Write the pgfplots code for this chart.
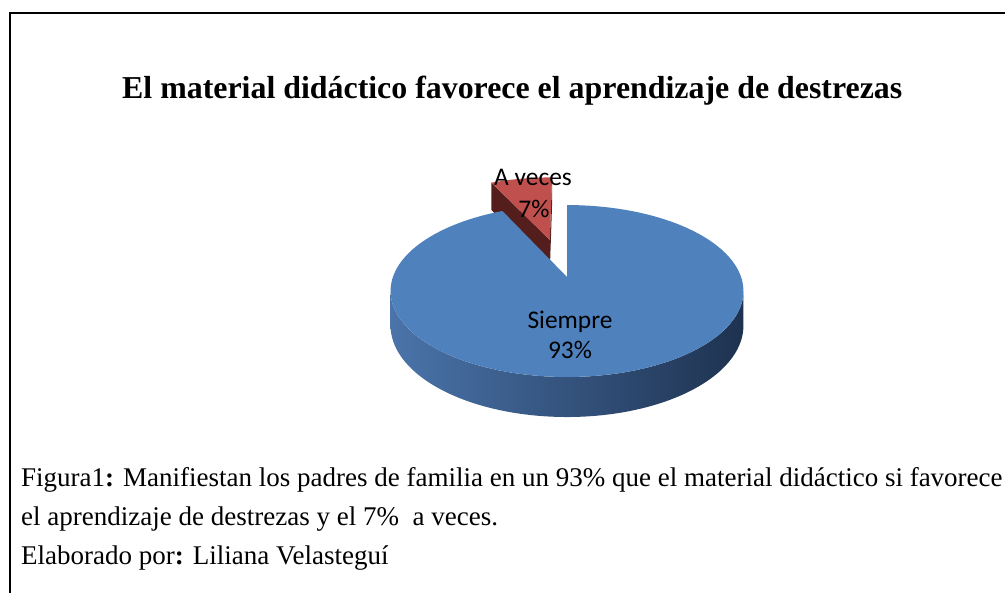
\documentclass[border=0pt]{standalone}
\usepackage{fontspec}
\setmainfont{Liberation Serif}
\newfontfamily\calibri{Carlito}
\usepackage{pgfplots}
\usepackage{pgfplotstable}
\pgfplotsset{compat=1.18}

\definecolor{bluetop}{RGB}{79,129,189}
\definecolor{sideL}{RGB}{74,116,170}
\definecolor{sideM}{RGB}{46,78,122}
\definecolor{sideR}{RGB}{30,50,80}
\definecolor{redtop}{RGB}{192,80,77}
\definecolor{reddark}{RGB}{84,30,28}

\pgfplotstableread{
label value
Siempre 93
Aveces 7
}\piedata
\pgfplotstablegetelem{0}{value}\of\piedata \let\vBlue\pgfplotsretval
\pgfplotstablegetelem{1}{value}\of\piedata \let\vRed\pgfplotsretval

% projection parameters (pixels)
\def\pcx{567}\def\pcy{277}\def\pA{174.1}\def\pB{83.7}\def\pp{0.163}\def\pH{33.5}
\pgfmathsetmacro\redStart{90}
\pgfmathsetmacro\redEnd{90+3.6*\vRed}
\pgfmathsetmacro\blueEnd{\redEnd+3.6*\vBlue}
\pgfmathsetmacro\redMid{(\redStart+\redEnd)/2}
\pgfmathsetmacro\rox{0.488*cos(\redMid)}
\pgfmathsetmacro\roy{0.488*sin(\redMid)}
\pgfmathsetmacro\sideA{180+asin(\pp)}
\pgfmathsetmacro\sideB{360-asin(\pp)}

\begin{document}
\begin{tikzpicture}
\begin{axis}[
  width=1005bp, height=593bp, scale only axis,
  xmin=0, xmax=1005, ymin=0, ymax=593, y dir=reverse,
  hide axis, clip=false,
  declare function={
    DD(\r,\t,\oy)=1+\pp*(\r*sin(\t)+\oy);
    PX(\r,\t,\ox,\oy)=\pcx+\pA*(\r*cos(\t)+\ox)/DD(\r,\t,\oy);
    PY(\r,\t,\oy,\z)=\pcy-(\pB*(\r*sin(\t)+\oy)-\z*\pH)/DD(\r,\t,\oy);
    RR(\u)=ifthenelse(or(\u<(-0.5),\u>120.5),0,1);
    TT(\u,\a,\b)=\a+(\b-\a)*min(max(\u,0),120)/120;
    QR(\u)=ifthenelse(or(\u<0.5,\u>2.5),0,1);
    QZ(\u)=ifthenelse(\u>1.5,1,0);
    SZ(\u)=ifthenelse(\u>100.5,1,0);
    ST(\u,\a,\b)=ifthenelse(\u>100.5,\b-(\b-\a)*(\u-101)/100,\a+(\b-\a)*\u/100);
  },
]
% frame
\addplot[black, line width=2bp] coordinates {(10,593) (10,13) (1005,13)};

% title
\node[anchor=base west, inner sep=0, font=\fontsize{32}{38}\selectfont\bfseries]
  at (axis cs:122,98) {El material didáctico favorece el aprendizaje de destrezas};

% red slice (exploded): cut faces
\addplot[fill=reddark, draw=none, samples at={0,1,2,3}, variable=\u]
  ({PX(QR(\u),\redEnd,\rox,\roy)}, {PY(QR(\u),\redEnd,\roy,QZ(\u))});
\addplot[fill=reddark, draw=none, samples at={0,1,2,3}, variable=\u]
  ({PX(QR(\u),\redStart,\rox,\roy)}, {PY(QR(\u),\redStart,\roy,QZ(\u))});
% red top face
\addplot[fill=redtop, draw=none, domain=-1:121, samples=123, variable=\u]
  ({PX(RR(\u),TT(\u,\redStart,\redEnd),\rox,\roy)}, {PY(RR(\u),TT(\u,\redStart,\redEnd),\roy,0)});

% blue side
\addplot[draw=none, left color=sideL, middle color=sideM, right color=sideR,
  domain=0:201, samples=202, variable=\u]
  ({PX(1,ST(\u,\sideA,\sideB),0,0)}, {PY(1,ST(\u,\sideA,\sideB),0,SZ(\u))});
% blue top face
\addplot[fill=bluetop, draw=none, domain=-1:121, samples=123, variable=\u]
  ({PX(RR(\u),TT(\u,\redEnd,\blueEnd),0,0)}, {PY(RR(\u),TT(\u,\redEnd,\blueEnd),0,0)});

% slice labels
\node[anchor=base, inner sep=0, font=\calibri\fontsize{25.5}{31}\selectfont]
  at (axis cs:533,185) {A veces};
\node[anchor=base, inner sep=0, font=\calibri\fontsize{25.5}{31}\selectfont]
  at (axis cs:534,217) {7\%};
\node[anchor=base, inner sep=0, font=\calibri\fontsize{25.5}{31}\selectfont]
  at (axis cs:570,328) {Siempre};
\node[anchor=base, inner sep=0, font=\calibri\fontsize{25.5}{31}\selectfont]
  at (axis cs:570,358) {93\%};

% caption
\node[anchor=base west, inner sep=0, font=\fontsize{27.1}{32}\selectfont]
  at (axis cs:21,486) {Figura1\textbf{:} Manifiestan los padres de familia en un 93\% que el material didáctico si favorece};
\node[anchor=base west, inner sep=0, font=\fontsize{27.1}{32}\selectfont]
  at (axis cs:21,525) {el aprendizaje de destrezas y el 7\%\ \ a veces.};
\node[anchor=base west, inner sep=0, font=\fontsize{27.1}{32}\selectfont]
  at (axis cs:21,564) {Elaborado por\textbf{:} Liliana Velasteguí};
\end{axis}
\pgfresetboundingbox
\useasboundingbox (current axis.south west) rectangle (current axis.north east);
\end{tikzpicture}
\end{document}
